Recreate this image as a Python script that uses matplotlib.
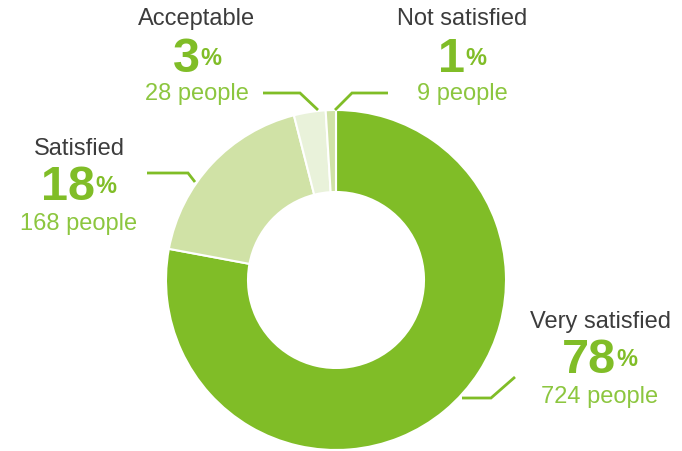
import matplotlib
matplotlib.use("Agg")
import matplotlib.pyplot as plt

# Survey results
categories = ["Very satisfied", "Satisfied", "Acceptable", "Not satisfied"]
people = [724, 168, 28, 9]
colors = ["#80bd27", "#d0e2a6", "#e9f2da", "#d0e2a6"]

plt.rcParams["font.family"] = ["Liberation Sans", "DejaVu Sans"]

W, H = 682, 451
fig = plt.figure(figsize=(W / 100, H / 100), dpi=100)
ax = fig.add_axes([0, 0, 1, 1])


def Y(y):
    # convert top-down pixel row to axis y
    return H - y


cx, cy, R = 336, 280, 170
ax.pie(people, colors=colors, startangle=90, counterclock=False,
       center=(cx, Y(cy)), radius=R, frame=True,
       wedgeprops=dict(width=82, edgecolor="white", linewidth=1.5))
ax.set_xlim(0, W)
ax.set_ylim(0, H)
ax.set_aspect("equal")
ax.axis("off")

total = sum(people)
pcts = [round(p / total * 100) for p in people]

green = "#80bd27"
light_green = "#8cc63f"
dark = "#3c3c3c"

# label block: centre x, baselines of name / number / people rows
label_pos = {
    "Very satisfied": (600, 328, 373, 403),
    "Satisfied": (79, 155, 200, 230),
    "Acceptable": (197, 25, 72, 100),
    "Not satisfied": (462, 25, 72, 100),
}

# leader lines
leaders = {
    "Very satisfied": [(462, 398), (491, 398), (515, 377)],
    "Satisfied": [(147, 173), (188, 173), (195, 182)],
    "Acceptable": [(263, 93), (300, 93), (318, 110)],
    "Not satisfied": [(335, 110), (352, 93), (388, 93)],
}

fig.canvas.draw()
renderer = fig.canvas.get_renderer()

for name, n, pct in zip(categories, people, pcts):
    x, b_name, b_num, b_ppl = label_pos[name]
    ax.text(x, Y(b_name), name, ha="center", va="baseline", fontsize=17,
            color=dark)
    ax.text(x, Y(b_ppl), f"{n} people", ha="center", va="baseline",
            fontsize=17, color=light_green)
    # big percentage number with a smaller raised % sign, centred as a group
    t_num = ax.text(0, 0, f"{pct}", fontsize=35, fontweight="bold",
                    color=green, ha="left", va="baseline")
    t_sign = ax.text(0, 0, "%", fontsize=17, fontweight="bold",
                     color=green, ha="left", va="baseline")
    w_num = t_num.get_window_extent(renderer).width
    w_sign = t_sign.get_window_extent(renderer).width
    gap = 0.5
    left = x - (w_num + gap + w_sign) / 2
    t_num.set_position((left, Y(b_num)))
    t_sign.set_position((left + w_num + gap, Y(b_num - 7)))
    pts = leaders[name]
    ax.plot([p[0] for p in pts], [Y(p[1]) for p in pts], color=green,
            lw=2, solid_joinstyle="miter", solid_capstyle="butt")

fig.savefig("out.png", dpi=100)
